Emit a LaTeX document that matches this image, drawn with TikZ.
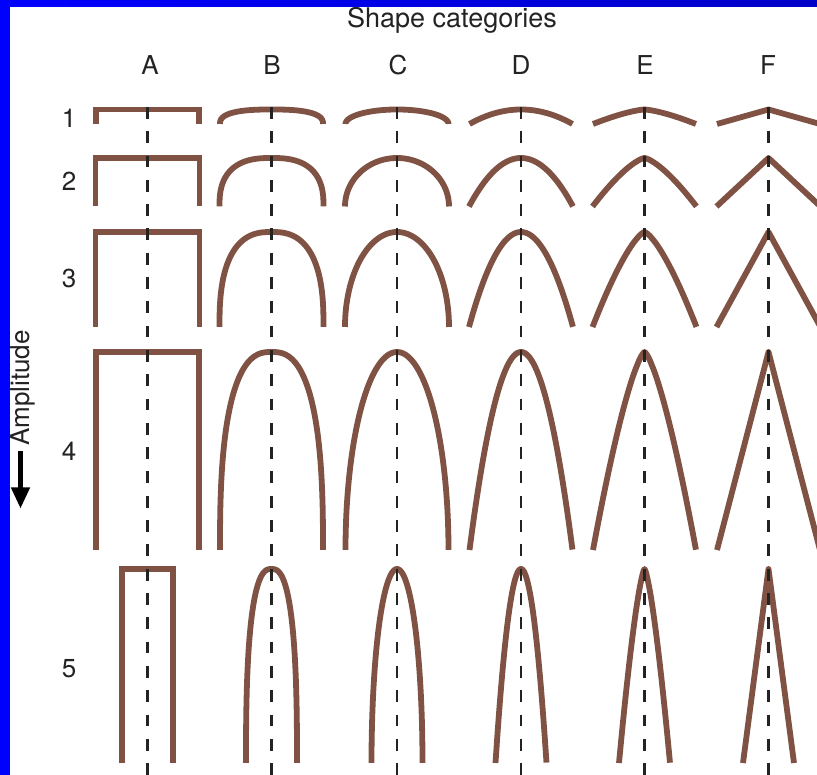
\documentclass[tikz,border=0pt]{standalone}
\usepackage{fontspec}
\setmainfont{TeX Gyre Heros}
\usetikzlibrary{arrows.meta}
\definecolor{arch}{RGB}{128,82,68}
\definecolor{ink}{RGB}{35,35,35}
\definecolor{bord}{RGB}{0,0,255}
\definecolor{bordd}{RGB}{0,0,200}
\newcommand{\ShRect}[4]{%
  \draw[rectline] ({#1-#4},#3) -- ({#1-#4},#2) -- ({#1+#4},#2) -- ({#1+#4},#3);}
\newcommand{\ShSuper}[5]{%
  \draw[archline] plot[domain=0:180, samples=121, variable=\t]
   ({#1 + #4*sign(cos(\t))*pow(max(abs(cos(\t)),0.0001),2/#5)},
    {#3 - (#3-#2)*pow(max(abs(sin(\t)),0.0001),2/#5)});}
\newcommand{\ShPow}[5]{%
  \draw[archline] plot[domain=-1:1, samples=101, variable=\u]
   ({#1 + #4*\u}, {#3 - (#3-#2)*(1-pow(max(abs(\u),0.0001),#5))});}
\newcommand{\ShTri}[4]{%
  \draw[archline] ({#1-#4},#3) -- (#1,#2) -- ({#1+#4},#3);}
\begin{document}
\begin{tikzpicture}[x=1pt,y=-1pt,
  archline/.style={draw=arch, line width=5.8pt, line join=round},
  rectline/.style={draw=arch, line width=5.8pt, line join=miter},
  axisline/.style={draw=ink, line width=2.9pt, dash pattern=on 11.8pt off 12.5pt},
  lbl/.style={font=\fontsize{26}{30}\selectfont, text=ink, anchor=base, inner sep=0pt},
  ttl/.style={font=\fontsize{27}{31}\selectfont, text=ink, anchor=base, inner sep=0pt}]
\useasboundingbox (0,0) rectangle (817,775);
\clip (0,0) rectangle (817,775);
\fill[white] (0,0) rectangle (817,775);
\fill[bord] (0,0) rectangle (10,775);
\shade[left color=bord, right color=bordd] (0,0) rectangle (817,7);
% labels
\node[ttl] (title) at (452,28) {Shape categories};
\node[lbl] (colA) at (150,75) {A};
\node[lbl] (colB) at (272,75) {B};
\node[lbl] (colC) at (398,75) {C};
\node[lbl] (colD) at (521,75) {D};
\node[lbl] (colE) at (645,75) {E};
\node[lbl] (colF) at (768,75) {F};
\node[lbl] (row1) at (69,128) {1};
\node[lbl] (row2) at (69,191) {2};
\node[lbl] (row3) at (69,288) {3};
\node[lbl] (row4) at (69,461) {4};
\node[lbl] (row5) at (69,677) {5};
\node[lbl, rotate=90] (amp) at (29,388) {Amplitude};
\coordinate (arrS) at (20.5,451);
\coordinate (arrE) at (20.5,508.5);
\draw[draw=black, line width=4.5pt, -{Triangle[length=21pt,width=18pt]}] (arrS) -- (arrE);
% shapes
\foreach \yt/\yb/\a in {109.5/124/51.5, 158/206.5/52, 232/327/52, 352/550/51.5, 569/763/25.5} {
  \ShRect{147.5}{\yt}{\yb}{\a}
  \ShSuper{271.5}{\yt}{\yb}{\a}{2.6}
  \ShSuper{397}{\yt}{\yb}{\a}{2}
  \ShPow{521}{\yt}{\yb}{\a}{2}
  \ShPow{644.5}{\yt}{\yb}{\a}{1.4}
  \ShTri{768.5}{\yt}{\yb}{\a}
}
% axes
\foreach \n/\x in {A/147.5, B/271.5, C/397, D/521, E/644.5, F/768.5} {
  \coordinate (top\n) at (\x,107);
  \coordinate (bot\n) at (\x,775);
  \draw[axisline] (top\n) -- (bot\n);
}
\end{tikzpicture}
\end{document}
